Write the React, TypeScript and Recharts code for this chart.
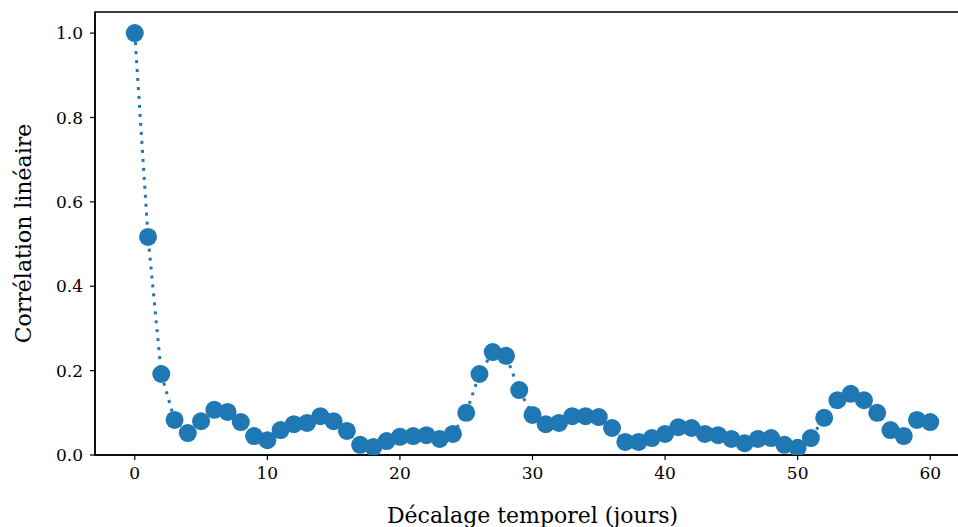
import {
  LineChart,
  Line,
  XAxis,
  YAxis,
  ReferenceArea,
  Label,
} from "recharts";

const lags = [
  0, 1, 2, 3, 4, 5, 6, 7, 8, 9, 10, 11, 12, 13, 14, 15, 16, 17, 18, 19, 20,
  21, 22, 23, 24, 25, 26, 27, 28, 29, 30, 31, 32, 33, 34, 35, 36, 37, 38, 39,
  40, 41, 42, 43, 44, 45, 46, 47, 48, 49, 50, 51, 52, 53, 54, 55, 56, 57, 58,
  59, 60,
];

const correlations = [
  1.0, 0.517, 0.192, 0.083, 0.052, 0.08, 0.107, 0.102, 0.078, 0.045, 0.035,
  0.059, 0.073, 0.076, 0.092, 0.08, 0.057, 0.024, 0.019, 0.033, 0.043, 0.045,
  0.047, 0.038, 0.05, 0.1, 0.192, 0.244, 0.235, 0.154, 0.095, 0.073, 0.076,
  0.092, 0.092, 0.09, 0.064, 0.031, 0.031, 0.04, 0.05, 0.066, 0.064, 0.05,
  0.047, 0.038, 0.028, 0.038, 0.04, 0.024, 0.017, 0.04, 0.088, 0.13, 0.145,
  0.13, 0.1, 0.059, 0.045, 0.083, 0.078,
];

const xTicks = [0, 10, 20, 30, 40, 50, 60];
const yTicks = [0, 0.2, 0.4, 0.6, 0.8, 1.0];

const data = lags.map((lag, i) => ({ lag, corr: correlations[i] }));

const FONT = "'DejaVu Serif', serif";
const BLUE = "#1f77b4";

const tickStyle = { fill: "#000", fontSize: 17, fontFamily: FONT };

export default function App() {
  return (
    <div
      style={{
        position: "absolute",
        left: 0,
        top: 0,
        width: 958,
        height: 527,
        overflow: "hidden",
      }}
    >
      <LineChart
        width={958}
        height={527}
        data={data}
        margin={{ top: 12, right: -12, bottom: 0, left: 0 }}
        style={{ display: "block" }}
      >
        <XAxis
          dataKey="lag"
          type="number"
          domain={[-3, 63]}
          ticks={xTicks}
          allowDataOverflow
          height={72}
          tick={tickStyle}
          tickSize={5}
          tickMargin={7}
          axisLine={{ stroke: "#000", strokeWidth: 1.5 }}
          tickLine={{ stroke: "#000", strokeWidth: 1.2 }}
        >
          <Label
            value="Décalage temporel (jours)"
            position="insideBottom"
            offset={4}
            style={{ fill: "#000", fontSize: 22, fontFamily: FONT }}
          />
        </XAxis>
        <YAxis
          type="number"
          domain={[0, 1.05]}
          ticks={yTicks}
          allowDataOverflow
          width={95}
          tick={tickStyle}
          tickSize={5}
          tickMargin={7}
          tickFormatter={(v: number) => v.toFixed(1)}
          axisLine={{ stroke: "#000", strokeWidth: 1.5 }}
          tickLine={{ stroke: "#000", strokeWidth: 1.2 }}
        >
          <Label
            value="Corrélation linéaire"
            angle={-90}
            position="insideLeft"
            offset={23}
            style={{
              fill: "#000",
              fontSize: 22,
              fontFamily: FONT,
              textAnchor: "middle",
            }}
          />
        </YAxis>
        <ReferenceArea
          x1={-3}
          x2={63}
          y1={0}
          y2={1.05}
          fill="none"
          stroke="#000"
          strokeWidth={1.5}
          ifOverflow="visible"
        />
        <Line
          type="linear"
          dataKey="corr"
          stroke={BLUE}
          strokeWidth={3}
          strokeDasharray="3 6"
          dot={{ r: 9, fill: BLUE, stroke: BLUE, strokeWidth: 0 }}
          activeDot={false}
          isAnimationActive={false}
        />
      </LineChart>
    </div>
  );
}
